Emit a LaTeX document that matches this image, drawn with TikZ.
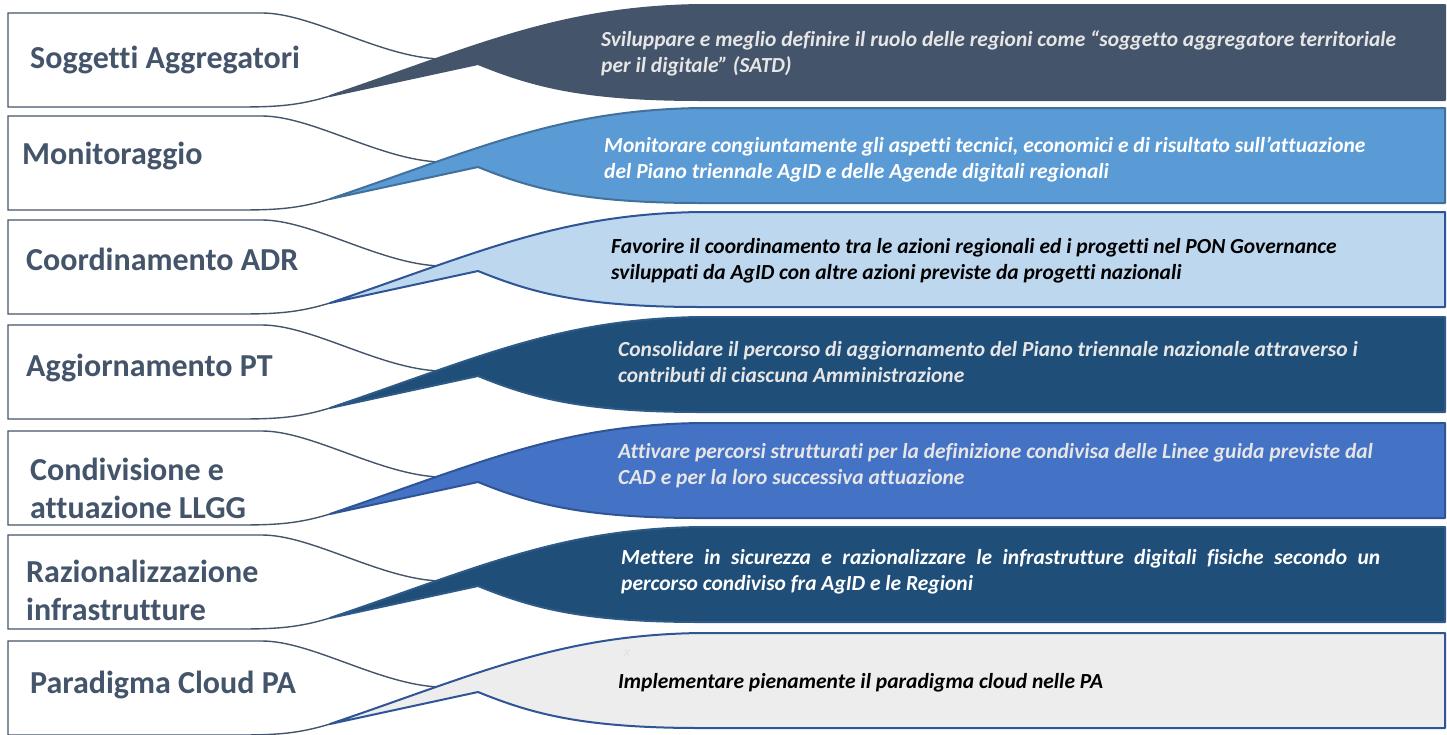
\documentclass[tikz,border=0pt]{standalone}
\usepackage{fontspec}
\setmainfont{Carlito}[Ligatures={NoCommon}]
\definecolor{slate}{HTML}{44546A}
\definecolor{midblue}{HTML}{5B9BD5}
\definecolor{midblueline}{HTML}{41719C}
\definecolor{paleblue}{HTML}{BDD7EE}
\definecolor{navy}{HTML}{1F4E79}
\definecolor{navyline}{HTML}{2E5A87}
\definecolor{royal}{HTML}{4472C4}
\definecolor{royalline}{HTML}{2F5597}
\definecolor{lightgrey}{HTML}{EDEDED}
\definecolor{pale}{HTML}{E7E6E6}
\tikzset{
  whitebox/.style={draw=slate, line width=1.4pt, fill=white},
  bubble/.style={line width=2pt, line join=round},
  lefttext/.style={anchor=west, inner sep=0pt, text=slate, align=left,
    font=\fontsize{32}{38}\selectfont\bfseries},
  righttext/.style={anchor=west, inner sep=0pt, align=left,
    font=\fontsize{21.5}{26}\selectfont\bfseries\itshape}
}
\newcommand\leftshape[1]{%
  \path[whitebox] (8,#1+8) -- (262,#1+8)
    .. controls (312,#1+8) and (380,#1+52) .. (440,#1+54)
    -- (330,#1+91)
    .. controls (300,#1+100) and (280,#1+102) .. (240,#1+102)
    -- (8,#1+102) -- cycle;}
\newcommand\bubbleshape[3]{%
  \path[bubble, fill=#2, draw=#3] (330,#1+91)
    .. controls (480,#1+40) and (560,#1+2) .. (700,#1)
    -- (1445,#1) -- (1445,#1+95) -- (700,#1+95)
    .. controls (580,#1+95) and (530,#1+80) .. (478,#1+59) -- cycle;}
\begin{document}
\begin{tikzpicture}[x=1pt,y=-1pt]
\useasboundingbox (0,0) rectangle (1447,734);
\begin{scope}
\clip (0,0) rectangle (1447,734);
\leftshape{5}   \bubbleshape{5}{slate}{slate}
\leftshape{108} \bubbleshape{108}{midblue}{midblueline}
\leftshape{212} \bubbleshape{212}{paleblue}{royalline}
\leftshape{317} \bubbleshape{317}{navy}{navyline}
\leftshape{423} \bubbleshape{423}{royal}{royalline}
\leftshape{527} \bubbleshape{527}{navy}{navyline}
\leftshape{633} \bubbleshape{633}{lightgrey}{royalline}
\end{scope}

\node[lefttext] (l1) at (30,60) {Soggetti Aggregatori};
\node[lefttext] (l2) at (22,156) {Monitoraggio};
\node[lefttext] (l3) at (26,259) {Coordinamento ADR};
\node[lefttext] (l4) at (26,368) {Aggiornamento PT};
\node[lefttext] (l5) at (30,488) {Condivisione e\\attuazione LLGG};
\node[lefttext] (l6) at (26,590) {Razionalizzazione\\infrastrutture};
\node[lefttext] (l7) at (30,685) {Paradigma Cloud PA};

\node[righttext, text=pale] (r1) at (601,53) {Sviluppare e meglio definire il ruolo delle regioni come “soggetto aggregatore territoriale\\per il digitale” (SATD)};
\node[righttext, text=white] (r2) at (604,160) {Monitorare congiuntamente gli aspetti tecnici, economici e di risultato sull{\char"0027}attuazione\\del Piano triennale AgID e delle Agende digitali regionali};
\node[righttext, text=black] (r3) at (611,261) {Favorire il coordinamento tra le azioni regionali ed i progetti nel PON Governance\\sviluppati da AgID con altre azioni previste da progetti nazionali};
\node[righttext, text=pale] (r4) at (618,362.5) {Consolidare il percorso di aggiornamento del Piano triennale nazionale attraverso i\\contributi di ciascuna Amministrazione};
\node[righttext, text=pale] (r5) at (618,466) {Attivare percorsi strutturati per la definizione condivisa delle Linee guida previste dal\\CAD e per la loro successiva attuazione};
\node[righttext, text=white] (r6) at (621,572) {\makebox[759pt][s]{Mettere in sicurezza e razionalizzare le infrastrutture digitali fisiche secondo un}\\percorso condiviso fra AgID e le Regioni};
\node[righttext, text=black] (r7) at (618,683) {Implementare pienamente il paradigma cloud nelle PA};
\node[anchor=center, inner sep=0pt, text=black!12, font=\fontsize{14}{16}\selectfont\itshape] (x7) at (627,653) {x};
\end{tikzpicture}
\end{document}
